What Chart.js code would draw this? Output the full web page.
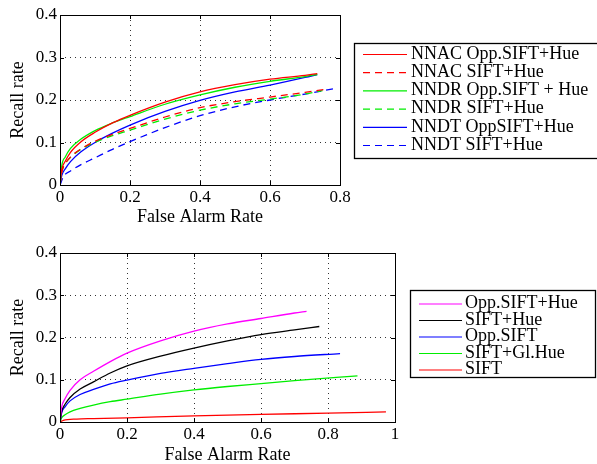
<!DOCTYPE html>
<html>
<head>
<meta charset="utf-8">
<script src="https://cdn.jsdelivr.net/npm/chart.js@4"></script>
<style>
  body { margin: 0; background: #fff; }
  #wrap { position: relative; width: 597px; height: 464px; }
  canvas { position: absolute; left: 0; }
</style>
</head>
<body>
<div id="wrap">
  <canvas id="topChart" width="597" height="232" style="top:0"></canvas>
  <canvas id="bottomChart" width="597" height="232" style="top:232px"></canvas>
</div>
<script>
// top panel: [false alarm rate, recall rate]
var nnacOpp = [[0,0],[0.005,0.036],[0.015,0.056],[0.03,0.077],[0.06,0.102],[0.1,0.124],[0.15,0.146],[0.2,0.164],[0.3,0.195],[0.4,0.219],[0.5,0.236],[0.6,0.249],[0.7,0.258],[0.735,0.262]];
var nnacSift = [[0,0],[0.005,0.03],[0.015,0.05],[0.03,0.066],[0.06,0.085],[0.1,0.103],[0.15,0.119],[0.2,0.133],[0.3,0.16],[0.4,0.182],[0.5,0.196],[0.6,0.207],[0.7,0.218],[0.757,0.225]];
var nndrOpp = [[0,0],[0.005,0.045],[0.015,0.066],[0.03,0.086],[0.06,0.108],[0.1,0.128],[0.15,0.146],[0.2,0.161],[0.3,0.19],[0.4,0.212],[0.5,0.23],[0.6,0.244],[0.7,0.255],[0.735,0.26]];
var nndrSift = [[0,0],[0.005,0.03],[0.015,0.05],[0.03,0.065],[0.06,0.084],[0.1,0.1],[0.15,0.116],[0.2,0.129],[0.3,0.155],[0.4,0.176],[0.5,0.191],[0.6,0.202],[0.7,0.214],[0.75,0.222]];
var nndtOpp = [[0,0],[0.005,0.022],[0.015,0.038],[0.03,0.055],[0.06,0.078],[0.1,0.1],[0.15,0.122],[0.2,0.141],[0.3,0.173],[0.4,0.199],[0.5,0.219],[0.6,0.235],[0.7,0.253],[0.735,0.26]];
var nndtSift = [[0,0],[0.01,0.02],[0.03,0.033],[0.06,0.048],[0.1,0.064],[0.15,0.084],[0.2,0.102],[0.3,0.135],[0.4,0.163],[0.5,0.184],[0.6,0.2],[0.7,0.214],[0.78,0.226]];
var topLabels = ["NNAC Opp.SIFT+Hue", "NNAC SIFT+Hue", "NNDR Opp.SIFT + Hue", "NNDR SIFT+Hue", "NNDT OppSIFT+Hue", "NNDT SIFT+Hue"];

// bottom panel
var oppSiftHue = [[0,0],[0.005,0.035],[0.015,0.055],[0.03,0.075],[0.06,0.1],[0.1,0.12],[0.15,0.143],[0.2,0.163],[0.3,0.192],[0.4,0.215],[0.5,0.232],[0.6,0.245],[0.7,0.258],[0.736,0.262]];
var siftHue = [[0,0],[0.005,0.025],[0.015,0.042],[0.03,0.058],[0.06,0.078],[0.1,0.095],[0.15,0.116],[0.2,0.133],[0.3,0.156],[0.4,0.175],[0.5,0.192],[0.6,0.207],[0.7,0.218],[0.774,0.226]];
var oppSift = [[0,0],[0.005,0.022],[0.015,0.036],[0.03,0.05],[0.06,0.065],[0.1,0.077],[0.15,0.09],[0.2,0.099],[0.3,0.115],[0.4,0.127],[0.5,0.138],[0.6,0.148],[0.7,0.155],[0.836,0.162]];
var siftGlHue = [[0,0],[0.005,0.01],[0.015,0.017],[0.03,0.024],[0.06,0.032],[0.1,0.04],[0.15,0.048],[0.2,0.054],[0.3,0.066],[0.4,0.076],[0.5,0.084],[0.6,0.091],[0.7,0.098],[0.888,0.109]];
var sift = [[0,0],[0.01,0.004],[0.05,0.007],[0.1,0.008],[0.2,0.01],[0.4,0.0145],[0.6,0.018],[0.8,0.021],[0.973,0.024]];
var bottomLabels = ["Opp.SIFT+Hue", "SIFT+Hue", "Opp.SIFT", "SIFT+Gl.Hue", "SIFT"];

var topXTicks = [0, 0.2, 0.4, 0.6, 0.8];
var bottomXTicks = [0, 0.2, 0.4, 0.6, 0.8, 1];
var yTicks = [0, 0.1, 0.2, 0.3, 0.4];

var serif = "'Liberation Serif', 'DejaVu Serif', serif";

function toPoints(arr) {
  return arr.map(function (p) { return { x: p[0], y: p[1] }; });
}

function line(label, arr, color, dashed) {
  return {
    label: label,
    data: toPoints(arr),
    borderColor: color,
    borderWidth: 1.3,
    borderDash: dashed ? [7, 5] : [],
    showLine: true,
    pointRadius: 0,
    cubicInterpolationMode: "monotone",
    fill: false
  };
}

// frame + inward ticks like matlab
var framePlugin = {
  id: "frame",
  afterDatasetsDraw: function (chart) {
    var a = chart.chartArea, ctx = chart.ctx;
    var xs = chart.scales.x, ys = chart.scales.y;
    ctx.save();
    ctx.strokeStyle = "#000";
    ctx.lineWidth = 1;
    ctx.setLineDash([]);
    ctx.beginPath();
    xs.ticks.forEach(function (t) {
      var px = Math.round(xs.getPixelForValue(t.value)) + 0.5;
      ctx.moveTo(px, a.bottom); ctx.lineTo(px, a.bottom - 4);
      ctx.moveTo(px, a.top); ctx.lineTo(px, a.top + 4);
    });
    ys.ticks.forEach(function (t) {
      var py = Math.round(ys.getPixelForValue(t.value)) + 0.5;
      ctx.moveTo(a.left, py); ctx.lineTo(a.left + 4, py);
      ctx.moveTo(a.right, py); ctx.lineTo(a.right - 4, py);
    });
    ctx.stroke();
    ctx.strokeRect(Math.round(a.left) + 0.5, Math.round(a.top) + 0.5, Math.round(a.right - a.left), Math.round(a.bottom - a.top));
    ctx.restore();
  }
};

// boxed legend on the right
var boxLegendPlugin = {
  id: "boxLegend",
  afterDraw: function (chart, args, o) {
    var ctx = chart.ctx;
    ctx.save();
    ctx.fillStyle = "#fff";
    ctx.fillRect(o.x, o.y, o.w, o.h);
    ctx.strokeStyle = "#000";
    ctx.lineWidth = 1.3;
    ctx.strokeRect(o.x + 0.5, o.y + 0.5, o.w, o.h);
    ctx.font = o.fontSize + "px " + serif;
    ctx.textBaseline = "middle";
    ctx.textAlign = "left";
    chart.data.datasets.forEach(function (ds, i) {
      var y = o.rowY + i * o.rowStep;
      ctx.strokeStyle = ds.borderColor;
      ctx.lineWidth = 1.2;
      ctx.setLineDash(ds.borderDash || []);
      ctx.beginPath();
      ctx.moveTo(o.lineX1, y + 0.5);
      ctx.lineTo(o.lineX2, y + 0.5);
      ctx.stroke();
      ctx.setLineDash([]);
      ctx.fillStyle = "#000";
      ctx.fillText(ds.label, o.textX, y);
    });
    ctx.restore();
  }
};

function makeOptions(xTicks, xMax, padTop, padRight, xAxisH, titlePad, legend) {
  return {
    responsive: false,
    animation: false,
    layout: { padding: { top: padTop, right: padRight, left: 0, bottom: 0 } },
    plugins: {
      legend: { display: false },
      tooltip: { enabled: false },
      boxLegend: legend
    },
    scales: {
      x: {
        type: "linear", min: 0, max: xMax,
        afterBuildTicks: function (s) { s.ticks = xTicks.map(function (v) { return { value: v }; }); },
        afterFit: function (s) { s.height = xAxisH; },
        ticks: { color: "#000", padding: 2, font: { family: serif, size: 17 }, maxRotation: 0,
          callback: function (v) { return String(v); } },
        grid: { color: "#333", drawTicks: false, lineWidth: 1 },
        border: { display: false, dash: [1, 4] },
        title: { display: true, text: "False Alarm Rate", color: "#000", font: { family: serif, size: 18, lineHeight: 1 }, padding: { top: 0, bottom: titlePad } }
      },
      y: {
        type: "linear", min: 0, max: 0.4,
        afterBuildTicks: function (s) { s.ticks = yTicks.map(function (v) { return { value: v }; }); },
        afterFit: function (s) { s.width = 60; },
        ticks: { color: "#000", padding: 3, font: { family: serif, size: 17 },
          callback: function (v) { return String(v); } },
        grid: { color: "#333", drawTicks: false, lineWidth: 1 },
        border: { display: false, dash: [1, 4] },
        title: { display: true, text: "Recall rate", color: "#000", font: { family: serif, size: 18, lineHeight: 1 }, padding: { top: 9, bottom: 0 } }
      }
    }
  };
}

new Chart(document.getElementById("topChart"), {
  type: "scatter",
  data: {
    datasets: [
      line(topLabels[0], nnacOpp, "#ff0000", false),
      line(topLabels[1], nnacSift, "#ff0000", true),
      line(topLabels[2], nndrOpp, "#00ee00", false),
      line(topLabels[3], nndrSift, "#00ee00", true),
      line(topLabels[4], nndtOpp, "#0000ff", false),
      line(topLabels[5], nndtSift, "#0000ff", true)
    ]
  },
  options: makeOptions(topXTicks, 0.8, 15, 257, 47, 6,
    { x: 354, y: 43, w: 250, h: 115, lineX1: 363, lineX2: 407, textX: 411, rowY: 54, rowStep: 18.2, fontSize: 18 }),
  plugins: [framePlugin, boxLegendPlugin]
});

new Chart(document.getElementById("bottomChart"), {
  type: "scatter",
  data: {
    datasets: [
      line(bottomLabels[0], oppSiftHue, "#ff00ff", false),
      line(bottomLabels[1], siftHue, "#000000", false),
      line(bottomLabels[2], oppSift, "#0000ff", false),
      line(bottomLabels[3], siftGlHue, "#00ee00", false),
      line(bottomLabels[4], sift, "#ff0000", false)
    ]
  },
  options: makeOptions(bottomXTicks, 1, 21, 202, 42, 0,
    { x: 410, y: 58, w: 185, h: 87, lineX1: 419, lineX2: 462, textX: 465, rowY: 71.5, rowStep: 16.5, fontSize: 18 }),
  plugins: [framePlugin, boxLegendPlugin]
});
</script>
</body>
</html>
